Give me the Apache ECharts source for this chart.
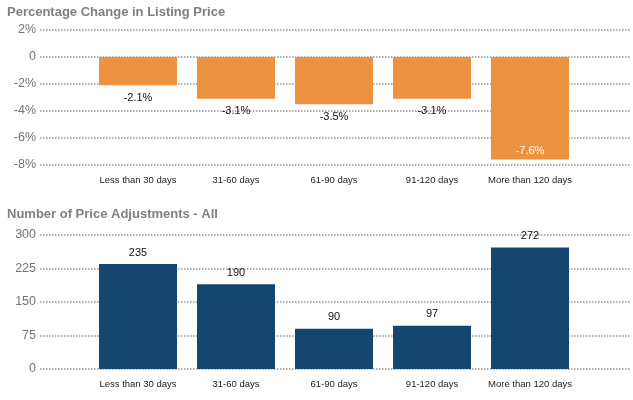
<!DOCTYPE html>
<html>
<head>
<meta charset="utf-8">
<script src="https://cdn.jsdelivr.net/npm/echarts@6/dist/echarts.min.js"></script>
<style>html,body{margin:0;padding:0;background:#fff}#c{width:633px;height:400px}</style>
</head>
<body>
<div id="c"></div>
<script>
const categories = ['Less than 30 days', '31-60 days', '61-90 days', '91-120 days', 'More than 120 days'];
const pctChange = [-2.1, -3.1, -3.5, -3.1, -7.6];
const adjustments = [235, 190, 90, 97, 272];
const pctTicks = { min: -8, max: 2, interval: 2 };
const adjTicks = { min: 0, max: 300, interval: 75 };

const FONT = 'Liberation Sans, Arial, sans-serif';
const gridLine = { show: true, lineStyle: { color: '#959595', width: 1.5, type: [1.5, 1.5] } };

const chart = echarts.init(document.getElementById('c'), null, { renderer: 'canvas' });

function hiddenX(gi) {
  return { type: 'category', gridIndex: gi, data: categories, show: false };
}
function catX(gi) {
  return {
    type: 'category', gridIndex: gi, data: categories,
    axisLine: { show: false, onZero: false }, axisTick: { show: false },
    axisLabel: { color: '#222', fontSize: 9.5, fontFamily: FONT, margin: 10, interval: 0 }
  };
}

const option = {
  animation: false,
  title: [
    { text: 'Percentage Change in Listing Price', left: 2, top: 1,
      textStyle: { color: '#808080', fontSize: 13, fontWeight: 'bold', fontFamily: FONT } },
    { text: 'Number of Price Adjustments - All', left: 2, top: 203,
      textStyle: { color: '#808080', fontSize: 13, fontWeight: 'bold', fontFamily: FONT } }
  ],
  grid: [
    { left: 40, right: 3, top: 30, height: 135 },
    { left: 89, width: 490, top: 30, height: 135 },
    { left: 40, right: 3, top: 235, height: 134 },
    { left: 89, width: 490, top: 235, height: 134 }
  ],
  xAxis: [hiddenX(0), catX(1), hiddenX(2), catX(3)],
  yAxis: [
    { type: 'value', gridIndex: 0, min: pctTicks.min, max: pctTicks.max, interval: pctTicks.interval,
      axisLine: { show: false }, axisTick: { show: false }, splitLine: gridLine,
      axisLabel: { color: '#737373', fontSize: 12.5, fontFamily: FONT, margin: 4,
        formatter: v => v === 0 ? '0' : v + '%' } },
    { type: 'value', gridIndex: 1, min: pctTicks.min, max: pctTicks.max, interval: pctTicks.interval, show: false, splitLine: { show: false } },
    { type: 'value', gridIndex: 2, min: adjTicks.min, max: adjTicks.max, interval: adjTicks.interval,
      axisLine: { show: false }, axisTick: { show: false }, splitLine: gridLine,
      axisLabel: { color: '#737373', fontSize: 12.5, fontFamily: FONT, margin: 4 } },
    { type: 'value', gridIndex: 3, min: adjTicks.min, max: adjTicks.max, interval: adjTicks.interval, show: false, splitLine: { show: false } }
  ],
  series: [
    {
      type: 'bar', xAxisIndex: 1, yAxisIndex: 1, barWidth: 78,
      itemStyle: { color: '#ED9241' },
      data: pctChange.map((v, i) => i === pctChange.length - 1
        ? { value: v, label: { position: 'insideBottom', color: '#fff', distance: 3 } }
        : v),
      label: { show: true, position: 'bottom', distance: 7, color: '#111', fontSize: 11, fontFamily: FONT,
        formatter: p => p.value.toFixed(1) + '%' }
    },
    {
      type: 'bar', xAxisIndex: 3, yAxisIndex: 3, barWidth: 78,
      itemStyle: { color: '#15466F' },
      data: adjustments,
      label: { show: true, position: 'top', distance: 6, color: '#111', fontSize: 11, fontFamily: FONT }
    }
  ]
};
chart.setOption(option);
</script>
</body>
</html>
